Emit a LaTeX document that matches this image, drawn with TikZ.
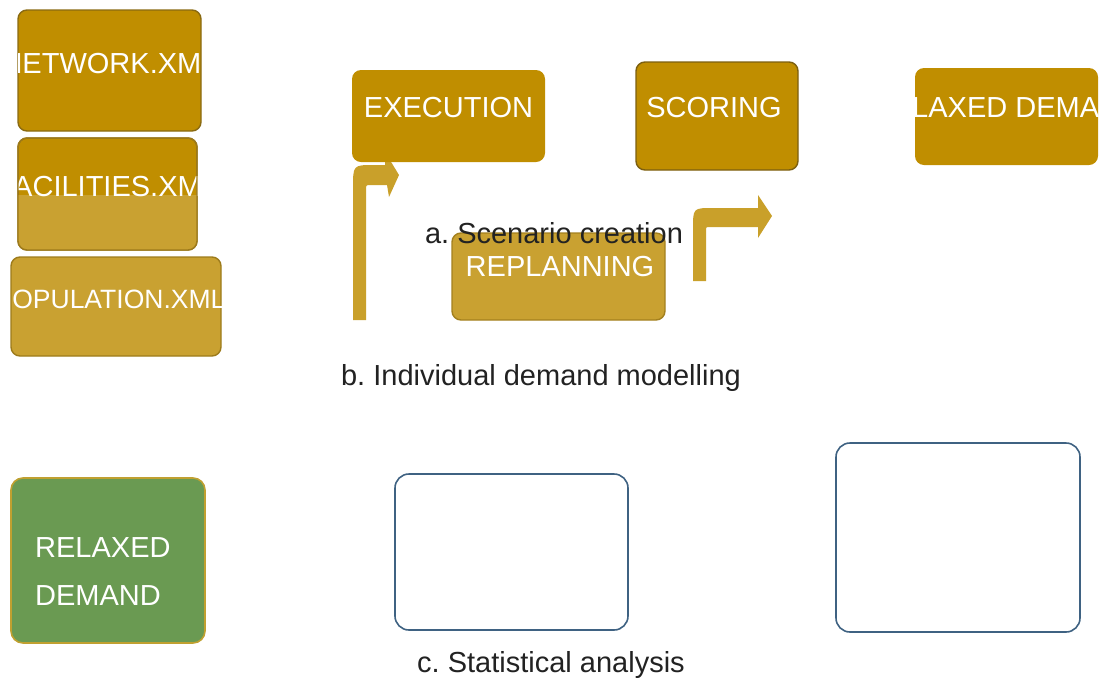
\documentclass[tikz,border=0pt]{standalone}
\usepackage{fontspec}
\setmainfont{Liberation Sans}
\frenchspacing
\definecolor{gold}{HTML}{C08E00}
\definecolor{goldlight}{HTML}{C9A131}
\definecolor{goldedge}{HTML}{8A6A12}
\definecolor{goldarrow}{HTML}{C9A02A}
\definecolor{greenbox}{HTML}{6A9A52}
\definecolor{greenedge}{HTML}{C0A030}
\definecolor{blueedge}{HTML}{3F6282}
\definecolor{captext}{HTML}{222222}
\tikzset{
  gbox/.style={rectangle, rounded corners=9pt, fill=gold, draw=goldedge, line width=1.4pt, inner sep=0pt},
  gboxlight/.style={gbox, fill=goldlight},
  gboxplain/.style={gbox, draw=none},
  bbox/.style={rectangle, rounded corners=14pt, draw=blueedge, line width=1.6pt, fill=none, inner sep=0pt},
  wtext/.style={text=white, font=\fontsize{29}{34}\selectfont\frenchspacing, inner sep=0pt, anchor=base},
  caption/.style={text=captext, font=\fontsize{29}{34}\selectfont\frenchspacing, inner sep=0pt, anchor=base},
  bentarrow/.style={fill=goldarrow, draw=none}
}
\begin{document}
\begin{tikzpicture}[x=1pt,y=-1pt]
\useasboundingbox (0,0) rectangle (1109,681);

% bent arrows (behind boxes)
\coordinate (a1s) at (360,320);
\coordinate (a2s) at (699,280);
\fill[bentarrow] (353,320) -- (353,188) .. controls (353,165) .. (374,165) -- (385,165) -- (385,152) -- (399,175) -- (389,197) -- (387,185) -- (371,185) .. controls (366,185) .. (366,190) -- (366,320) -- cycle;
\fill[bentarrow] (693,281) -- (693,229) .. controls (693,208) .. (713,208) -- (758,208) -- (758,195) -- (772,216) -- (758,238) -- (758,227) -- (710,227) .. controls (706,227) .. (706,231) -- (706,281) -- cycle;

% left file boxes
\node[gbox, minimum width=183pt, minimum height=121pt] (net) at (109.5,70.5) {};
\begin{scope}
\clip[rounded corners=9pt] (18,10) rectangle (201,131);
\node[wtext] (netT) at (109.5,73) {NETWORK.XML};
\end{scope}

\node[gbox, minimum width=179pt, minimum height=112pt] (fac) at (107.5,194) {};
\begin{scope}
\clip[rounded corners=9pt] (18,138) rectangle (197,250);
\fill[goldlight] (18,195) rectangle (197,250);
\node[wtext] (facT) at (107.5,196) {FACILITIES.XML};
\end{scope}
\draw[goldedge!70!goldlight, line width=1.4pt, rounded corners=9pt] (18,138) rectangle (197,250);

\node[gboxlight, minimum width=210pt, minimum height=99pt, draw=goldedge!70!goldlight] (pop) at (116,306.5) {};
\begin{scope}
\clip[rounded corners=9pt] (11,257) rectangle (221,356);
\node[wtext, font=\fontsize{26.5}{32}\selectfont] (popT) at (110,308) {POPULATION.XML};
\end{scope}

% top row
\node[gboxplain, minimum width=193pt, minimum height=92pt] (exec) at (448.5,116) {};
\node[wtext] (execT) at (448.5,117) {EXECUTION};

\node[gbox, minimum width=162pt, minimum height=108pt, draw=goldedge!90!black] (score) at (717,116) {};
\node[wtext] (scoreT) at (714,117) {SCORING};

\node[gboxplain, minimum width=183pt, minimum height=97pt] (relax) at (1006.5,116.5) {};
\begin{scope}
\clip[rounded corners=9pt] (915,68) rectangle (1098,165);
\node[wtext] (relaxT) at (1006.5,117) {RELAXED DEMAND};
\end{scope}

% replanning
\node[gboxlight, minimum width=213pt, minimum height=87pt, draw=goldedge!60!goldlight] (repl) at (558.5,276.5) {};
\node[wtext] (replT) at (560,276) {REPLANNING};
\node[caption] (capA) at (554,243) {a. Scenario creation};

\node[caption] (capB) at (541,385) {b. Individual demand modelling};

% bottom row
\node[rectangle, rounded corners=12pt, fill=greenbox, draw=greenedge, line width=1.6pt, minimum width=194pt, minimum height=165pt] (green) at (108,560.5) {};
\node[wtext, anchor=base west] (greenT1) at (35,557) {RELAXED};
\node[wtext, anchor=base west] (greenT2) at (35,605) {DEMAND};

\node[bbox, minimum width=233pt, minimum height=156pt] (stat1) at (511.5,552) {};
\node[bbox, minimum width=244pt, minimum height=189pt] (stat2) at (958,537.5) {};

\node[caption] (capC) at (551,672) {c. Statistical analysis};
\end{tikzpicture}
\end{document}
